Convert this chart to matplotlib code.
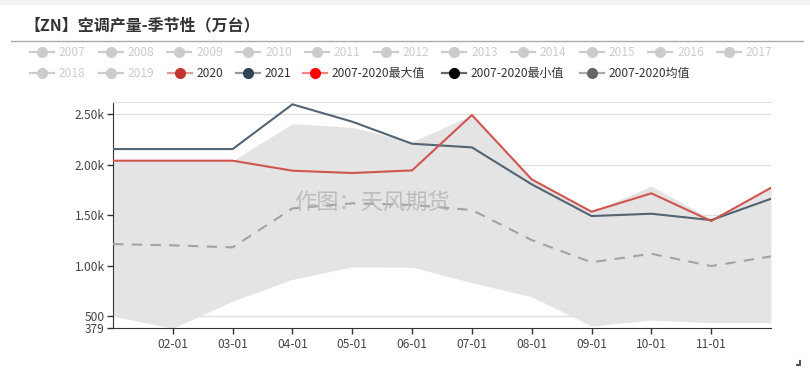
import numpy as np
import matplotlib
matplotlib.use("Agg")
import matplotlib.pyplot as plt
from matplotlib.lines import Line2D

plt.rcParams['font.family'] = ['Noto Sans CJK SC', 'DejaVu Sans']

# data (万台), months 01-01 .. 12-01
months = ['01-01', '02-01', '03-01', '04-01', '05-01', '06-01',
          '07-01', '08-01', '09-01', '10-01', '11-01', '12-01']
y2020 = [2038, 2038, 2038, 1939, 1916, 1942, 2490, 1853, 1533, 1715, 1441, 1770]
y2021 = [2153, 2153, 2153, 2596, 2424, 2206, 2170, 1804, 1490, 1513, 1450, 1661]
hist_max = [2038, 2038, 2038, 2404, 2368, 2226, 2490, 1853, 1533, 1787, 1460, 1770]
hist_min = [500, 379, 648, 863, 988, 985, 830, 691, 401, 460, 434, 434]
hist_mean = [1213, 1200, 1180, 1566, 1616, 1600, 1550, 1252, 1032, 1117, 995, 1091]

ytick_vals = [379, 500, 1000, 1500, 2000, 2500]
ytick_labels = ['379', '500', '1.00k', '1.50k', '2.00k', '2.50k']
y_top = 2622

legend_row1 = ['2007', '2008', '2009', '2010', '2011', '2012',
               '2013', '2014', '2015', '2016', '2017']
legend_row2 = ['2018', '2019', '2020', '2021',
               '2007-2020最大值', '2007-2020最小值', '2007-2020均值']

W, H = 810, 371
fig = plt.figure(figsize=(W / 100, H / 100), dpi=100)
fig.patch.set_facecolor('white')


def fx(px):
    return px / W


def fy(py):
    return 1 - py / H


# top grey strip and title
fig.patches.append(plt.Rectangle((0, fy(4)), 1, 4 / H, transform=fig.transFigure,
                                 color='#f2f2f2', zorder=0))
fig.text(fx(24), fy(25), '【ZN】空调产量-季节性（万台）', fontsize=11.5, fontweight='bold',
         color='#333333', va='center', ha='left')
fig.add_artist(Line2D([fx(11), fx(803)], [fy(41.3), fy(41.3)], transform=fig.transFigure,
                      color='#aaaaaa', lw=1))

# legend drawn by hand to keep echarts layout
grey = '#cccccc'
row1_x = [42 + 68.7 * i for i in range(len(legend_row1))]
row2_x = [42, 111, 180, 248, 315, 454, 592]
styles2 = [(grey, grey, grey), (grey, grey, grey),
           ('#e09a97', '#c23531', '#333333'), ('#8c9aa5', '#2f4554', '#333333'),
           ('#ff8080', '#ff0000', '#333333'), ('#666666', '#000000', '#333333'),
           ('#aaaaaa', '#666666', '#333333')]


def legend_item(cx, cy, label, lc, mc, tc):
    fig.add_artist(Line2D([fx(cx - 12), fx(cx + 12)], [fy(cy), fy(cy)],
                          transform=fig.transFigure, color=lc, lw=1.6))
    fig.add_artist(Line2D([fx(cx)], [fy(cy)], transform=fig.transFigure, marker='o',
                          markersize=7, color=mc, lw=0))
    fig.text(fx(cx + 17), fy(cy), label, fontsize=8.6, color=tc, va='center', ha='left')


for cx, lab in zip(row1_x, legend_row1):
    legend_item(cx, 52.3, lab, grey, grey, grey)
for cx, lab, st in zip(row2_x, legend_row2, styles2):
    legend_item(cx, 73.3, lab, *st)

# main axes
ax = fig.add_axes([fx(113), fy(328.3), fx(771) - fx(113), fy(101.7) - fy(328.3)])
x = np.arange(len(months))

ax.fill_between(x, hist_min, hist_max, color='#e4e4e4', lw=0, zorder=1)
ax.plot(x, hist_mean, color='#a3a3a3', lw=1.5, ls=(0, (5, 4)), zorder=3)
ax.plot(x, y2021, color='#536473', lw=1.5, zorder=4)
ax.plot(x, y2020, color='#d0554f', lw=1.5, zorder=5)

ax.set_xlim(0, len(months) - 1)
ax.set_ylim(ytick_vals[0], y_top)
ax.set_xticks(x[1:-1])
ax.set_xticklabels(months[1:-1])
ax.set_yticks(ytick_vals)
ax.set_yticklabels(ytick_labels)

for v in ytick_vals[1:]:
    ax.axhline(v, color='#e0e0e0', lw=1, zorder=0.5)

ax.spines['right'].set_visible(False)
ax.spines['top'].set_color('#e0e0e0')
ax.spines['left'].set_color('#333333')
ax.spines['bottom'].set_color('#333333')
ax.tick_params(axis='both', colors='#333333', labelsize=8.6, length=4, width=1)
ax.tick_params(axis='x', pad=3)
ax.tick_params(axis='y', pad=2)
for lab in ax.get_xticklabels() + ax.get_yticklabels():
    lab.set_color('#444444')

# watermark
fig.text(fx(372), fy(203), '作图：天风期货', fontsize=16, color='#b4b4b4', alpha=0.8,
         ha='center', va='center', zorder=10)

# corner resize mark
fig.add_artist(Line2D([fx(797), fx(800), fx(800)], [fy(365), fy(365), fy(361)],
                      transform=fig.transFigure, color='#555555', lw=1.5))

fig.savefig('out.png', dpi=100)
